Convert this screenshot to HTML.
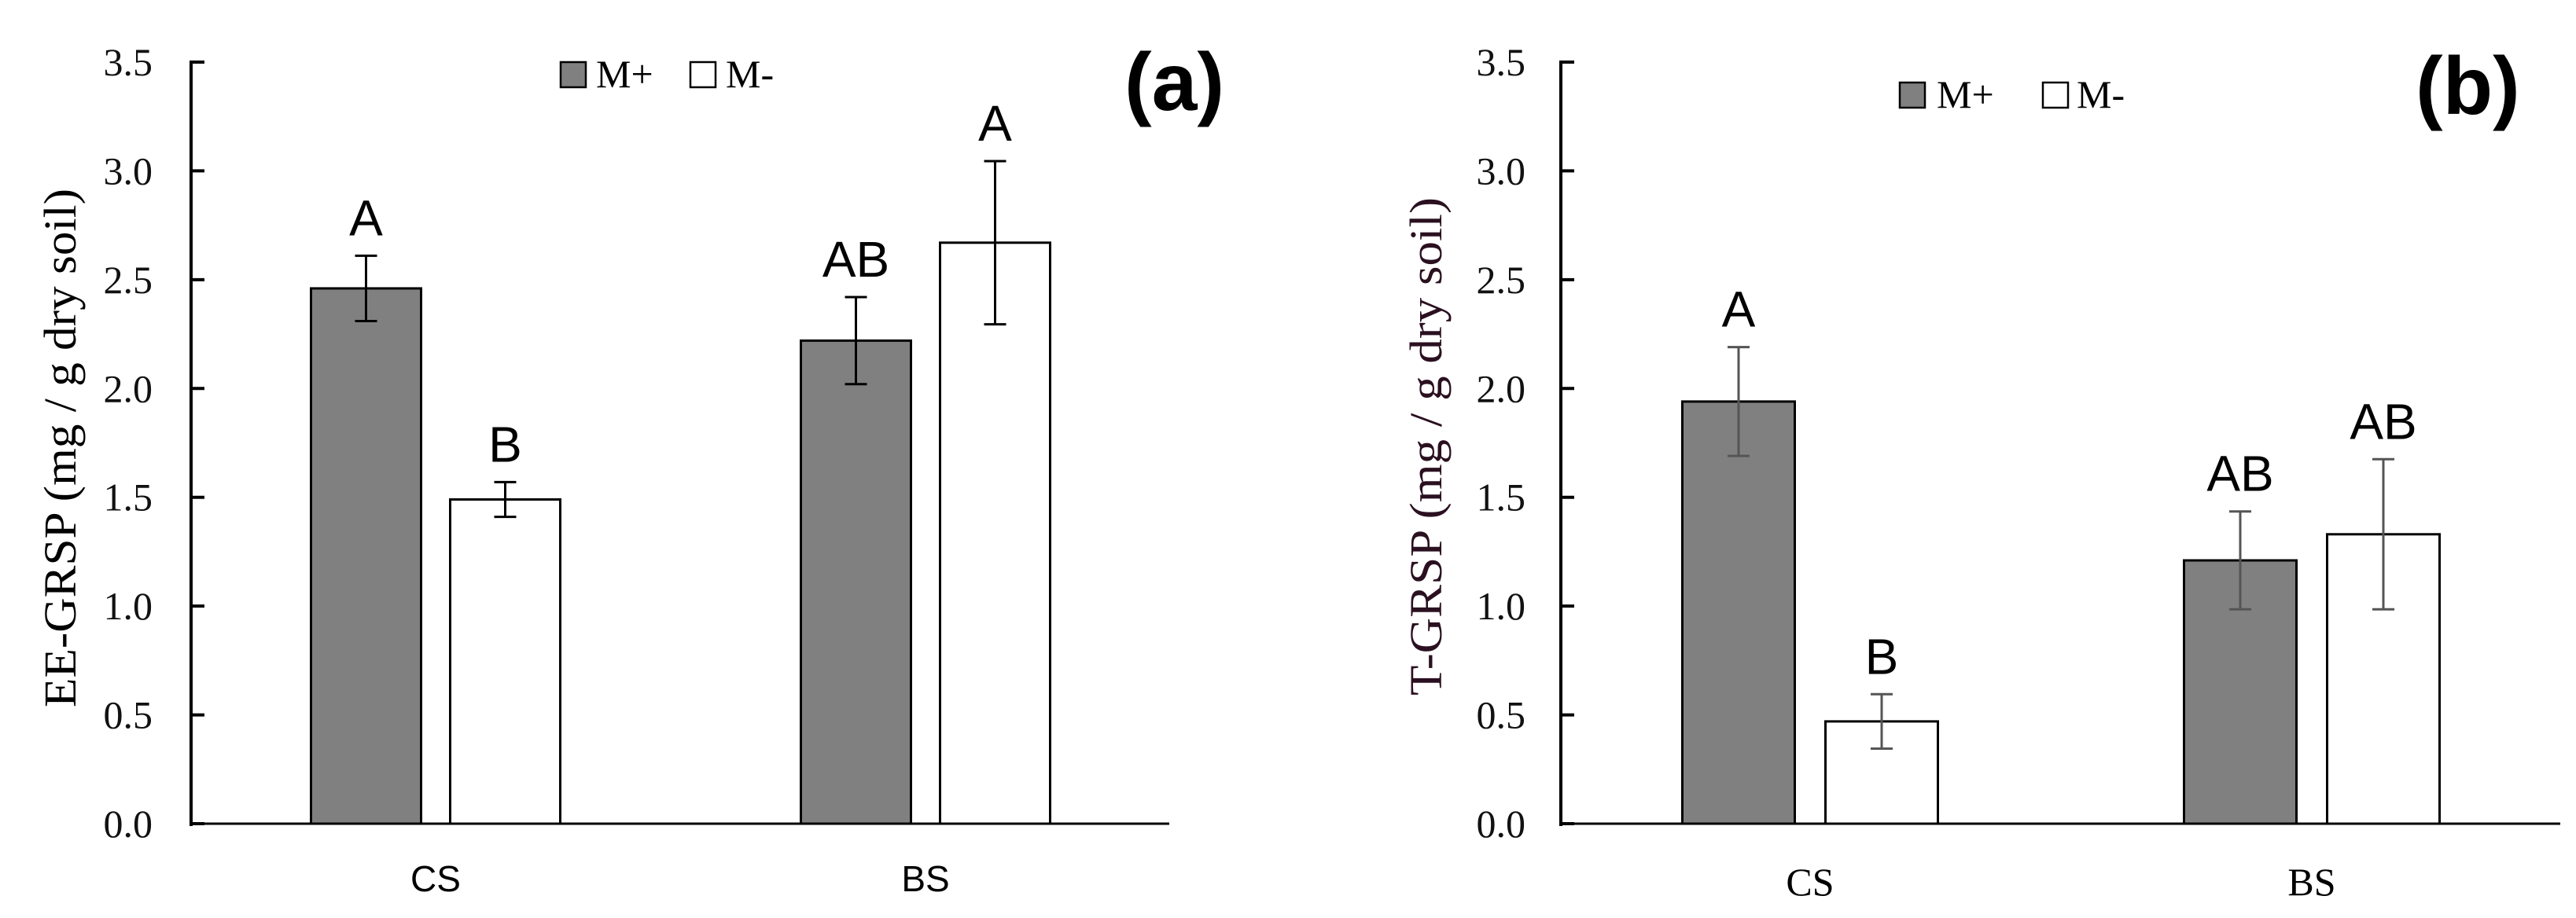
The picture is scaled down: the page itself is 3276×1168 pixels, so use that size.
<!DOCTYPE html>
<html><head><meta charset="utf-8"><style>
html,body{margin:0;padding:0;background:#fff;}
svg{display:block;}
</style></head><body>
<svg id="fig" width="3276" height="1168" viewBox="0 0 3276 1168" xmlns="http://www.w3.org/2000/svg"></svg>
<script>
const categories = ["CS", "BS"];
const seriesNames = ["M+", "M-"];
const yTicks = [0, 0.5, 1.0, 1.5, 2.0, 2.5, 3.0, 3.5];
const yTickLabels = ["0.0","0.5","1.0","1.5","2.0","2.5","3.0","3.5"];
const aMplus = [2.46, 2.22];
const aMminus = [1.49, 2.67];
const aMplusErr = [0.15, 0.20];
const aMminusErr = [0.08, 0.375];
const aMplusLetters = ["A", "AB"];
const aMminusLetters = ["B", "A"];
const bMplus = [1.94, 1.21];
const bMminus = [0.47, 1.33];
const bMplusErr = [0.25, 0.225];
const bMminusErr = [0.125, 0.345];
const bMplusLetters = ["A", "AB"];
const bMminusLetters = ["B", "AB"];

const svg = document.getElementById('fig');
const NS = 'http://www.w3.org/2000/svg';
function mk(tag, attrs, parent, text) {
  const e = document.createElementNS(NS, tag);
  for (const k in attrs) e.setAttribute(k, attrs[k]);
  if (text !== undefined) e.textContent = text;
  (parent || svg).appendChild(e);
  return e;
}

function panel(cfg) {
  const g = mk('g', {});
  
  
  const y0 = 1048, y35 = 79;
  const yScale = v => y0 - (v / 3.5) * (y0 - y35);
  // axes
  const ya = mk('line', {x1: cfg.axisX, y1: y35 - 2, x2: cfg.axisX, y2: y0 + 3, stroke: '#000', 'stroke-width': 4}, g);
  
  
  const xa = mk('line', {x1: cfg.axisX, y1: y0, x2: cfg.axisEnd, y2: y0, stroke: '#000', 'stroke-width': 3}, g);
  
  
  yTicks.forEach((t, i) => {
    const y = yScale(t);
    const tk = mk('line', {x1: cfg.axisX, y1: y, x2: cfg.axisX + 17, y2: y, stroke: '#000', 'stroke-width': 4}, g);
    
    
    const tl = mk('text', {x: cfg.tickRight, y: y + 17, 'text-anchor': 'end', 'font-family': '"Liberation Serif", serif', 'font-size': 50, fill: '#111'}, g, yTickLabels[i]);
    
    
  });
  // title
  const tt = mk('text', {x: 0, y: 0, 'text-anchor': 'middle', 'font-family': '"Liberation Serif", serif', 'font-size': 58, fill: cfg.titleColor, transform: `translate(${cfg.titleX},${cfg.titleY}) rotate(-90)`, textLength: cfg.titleLen, lengthAdjust: 'spacingAndGlyphs'}, g, cfg.title);
  
  
  // bars
  const series = [cfg.plus, cfg.minus];
  const errs = [cfg.plusErr, cfg.minusErr];
  const letters = [cfg.plusLetters, cfg.minusLetters];
  const fills = ['#808080', '#ffffff'];
  categories.forEach((c, ci) => {
    const center = cfg.catCenters[ci];
    for (let s = 0; s < 2; s++) {
      const v = series[s][ci];
      const e = errs[s][ci];
      const bx = s === 0 ? center - cfg.barGap / 2 - cfg.barW : center + cfg.barGap / 2;
      const top = yScale(v);
      const r = mk('rect', {x: bx, y: top, width: cfg.barW, height: y0 - top, fill: fills[s], stroke: '#000', 'stroke-width': 3}, g);
      
      
      const mx = bx + cfg.barW / 2;
      const eh = yScale(v + e), el = yScale(v - e);
      const eg = mk('g', {stroke: cfg.errColor, 'stroke-width': 3}, g);
      
      
      mk('line', {x1: mx, y1: eh, x2: mx, y2: el}, eg);
      mk('line', {x1: mx - 14, y1: eh, x2: mx + 14, y2: eh}, eg);
      mk('line', {x1: mx - 14, y1: el, x2: mx + 14, y2: el}, eg);
      const lt = mk('text', {x: mx, y: eh - 26, 'text-anchor': 'middle', 'font-family': '"Liberation Sans", sans-serif', 'font-size': 64, fill: '#000'}, g, letters[s][ci]);
      
      
    }
    const cl = mk('text', {x: center, y: cfg.catLabelY, 'text-anchor': 'middle', 'font-family': cfg.catFont, 'font-size': cfg.catSize, fill: '#000'}, g, c);
    
    
  });
  // legend
  const lg = mk('g', {}, g);
  
  
  const L = cfg.legend;
  const s1 = mk('rect', {x: L.sq1, y: L.y, width: 32, height: 32, fill: '#808080', stroke: '#000', 'stroke-width': 2.5}, lg);
  
  
  const t1 = mk('text', {x: L.t1, y: L.y + 32, 'font-family': '"Liberation Serif", serif', 'font-size': 50, fill: '#000'}, lg, seriesNames[0]);
  
  
  const s2 = mk('rect', {x: L.sq2, y: L.y, width: 32, height: 32, fill: '#fff', stroke: '#000', 'stroke-width': 2.5}, lg);
  
  
  const t2 = mk('text', {x: L.t2, y: L.y + 32, 'font-family': '"Liberation Serif", serif', 'font-size': 50, fill: '#000'}, lg, seriesNames[1]);
  
  
  // panel label
  const pl = mk('text', {x: cfg.plX, y: cfg.plY, 'font-family': '"Liberation Sans", sans-serif', 'font-weight': 'bold', 'font-size': 104, fill: '#000'}, g, cfg.panelLabel);
  
  
}

panel({name: 'panel-a', axisX: 243, axisEnd: 1487, tickRight: 194, title: 'EE-GRSP (mg / g dry soil)', titleX: 96, titleY: 570, titleLen: 660, titleColor: '#000',
  plus: aMplus, minus: aMminus, plusErr: aMplusErr, minusErr: aMminusErr, plusLetters: aMplusLetters, minusLetters: aMminusLetters,
  catCenters: [554, 1177], barW: 140, barGap: 37, errColor: '#000', catLabelY: 1134, catFont: '"Liberation Sans", sans-serif', catSize: 46,
  legend: {sq1: 713, t1: 758, sq2: 878, t2: 923, y: 79}, plX: 1430, plY: 140, panelLabel: '(a)'});

panel({name: 'panel-b', axisX: 1985, axisEnd: 3256, tickRight: 1940, title: 'T-GRSP (mg / g dry soil)', titleX: 1833, titleY: 568, titleLen: 634, titleColor: '#2a1020',
  plus: bMplus, minus: bMminus, plusErr: bMplusErr, minusErr: bMminusErr, plusLetters: bMplusLetters, minusLetters: bMminusLetters,
  catCenters: [2302, 2940], barW: 143, barGap: 39, errColor: '#555', catLabelY: 1139, catFont: '"Liberation Serif", serif', catSize: 50,
  legend: {sq1: 2416, t1: 2463, sq2: 2598, t2: 2641, y: 105}, plX: 3072, plY: 145, panelLabel: '(b)'});
</script>
</body></html>
